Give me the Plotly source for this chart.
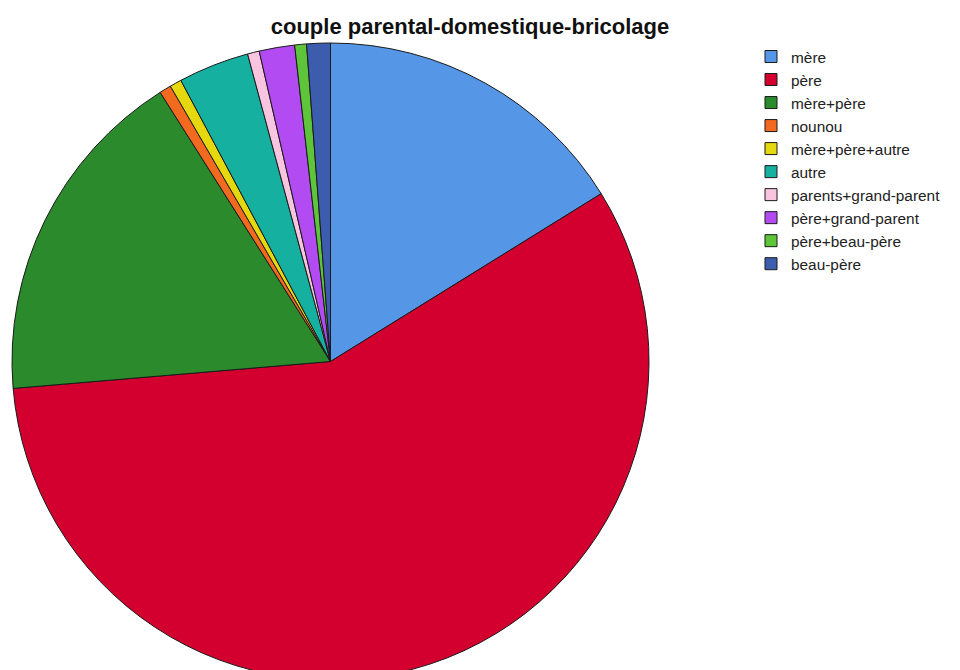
import plotly.graph_objects as go

categories = ["mère", "père", "mère+père", "nounou", "mère+père+autre", "autre",
              "parents+grand-parent", "père+grand-parent", "père+beau-père", "beau-père"]
counts = [27, 96, 29, 1, 1, 6, 1, 3, 1, 2]
colors = ["#5596e6", "#d3002f", "#2b8a2b", "#f26a1f", "#e6d80f", "#15b09f",
          "#f9c4e0", "#b24cf2", "#5ec43a", "#3c5cae"]

W, H = 960, 690

fig = go.Figure(go.Pie(
    labels=categories,
    values=counts,
    sort=False,
    direction="clockwise",
    rotation=0,
    marker=dict(colors=colors, line=dict(color="#1a1a1a", width=1)),
    textinfo="none",
    domain=dict(x=[12 / W, 649 / W], y=[(H - 680) / H, (H - 43) / H]),
))

fig.update_layout(
    width=W, height=H,
    margin=dict(l=0, r=0, t=0, b=0),
    paper_bgcolor="white",
    plot_bgcolor="white",
    title=dict(text="<b>couple parental-domestique-bricolage</b>",
               x=470 / W, xanchor="center", y=1 - 26 / H, yanchor="middle",
               font=dict(family="Liberation Sans, Arial", size=22, color="#111")),
    legend=dict(x=751 / W, xanchor="left", y=1 - 40 / H, yanchor="top",
                font=dict(family="Liberation Sans, Arial", size=15.4, color="#222"),
                itemwidth=30, tracegroupgap=0, traceorder="normal",
                bgcolor="rgba(0,0,0,0)"),
    showlegend=True,
)

fig.write_html("out.html", config={"displayModeBar": False},
               post_script="document.body.style.margin='0';document.body.style.overflow='hidden';document.documentElement.style.overflow='hidden';")
